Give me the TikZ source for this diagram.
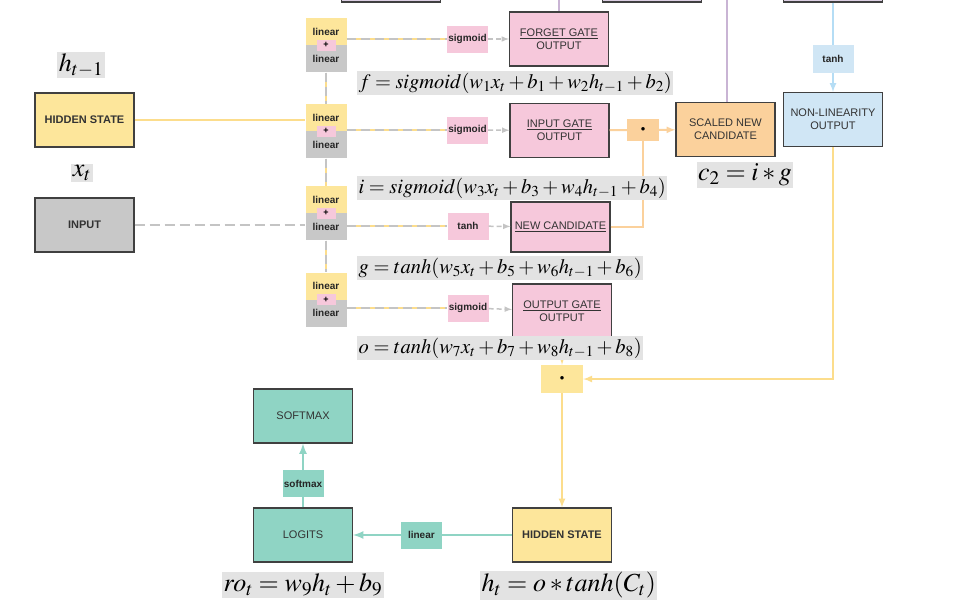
\documentclass[tikz,border=0pt]{standalone}
\usepackage{mathptmx}
\usepackage{fontspec}
\setsansfont{Liberation Sans}
\usetikzlibrary{arrows}
\usetikzlibrary{positioning}

\definecolor{hsyellow}{HTML}{FDE69B}
\definecolor{yline}{HTML}{FCDD8C}
\definecolor{inpgray}{HTML}{C8C8C8}
\definecolor{wiregray}{HTML}{C4C4C4}
\definecolor{gatepink}{HTML}{F6C8DB}
\definecolor{candorange}{HTML}{FBD19C}
\definecolor{nlblue}{HTML}{D0E6F5}
\definecolor{bline}{HTML}{B5DDF5}
\definecolor{pline}{HTML}{C9B4D4}
\definecolor{logteal}{HTML}{8FD4C4}
\definecolor{eqgray}{HTML}{E3E3E3}
\definecolor{topfill}{HTML}{DCCFE3}

\begin{document}
\begin{tikzpicture}[x=1pt, y=-1pt, >=latex,
	box/.style={draw=black!75, line width=1.1pt, minimum width=99pt, minimum height=54pt, inner sep=2pt, align=center, text=black!80, font=\sffamily\fontsize{11}{13}\selectfont},
	tag/.style={minimum width=41pt, minimum height=27pt, inner sep=1pt, text=black!85, font=\sffamily\bfseries\fontsize{10}{11}\selectfont},
	plus/.style={fill=gatepink, minimum width=19pt, minimum height=11pt, inner sep=0pt, font=\sffamily\bfseries\fontsize{9}{9}\selectfont},
	dotbox/.style={minimum width=32pt, minimum height=22pt, inner sep=0pt, font=\fontsize{9}{9}\selectfont},
	eqn/.style={fill=eqgray, inner sep=1.5pt, font=\fontsize{20.5}{24}\selectfont},
	biglab/.style={eqn, font=\fontsize{26}{30}\selectfont},
	hline/.style={draw=yline, line width=2pt},
	xline/.style={draw=wiregray, line width=2pt, dash pattern=on 10pt off 5pt},
	gatewire/.style={draw=yline, line width=2pt, postaction={draw=wiregray, dash pattern=on 9pt off 5pt}},
	actarrow/.style={draw=wiregray, line width=1.5pt, dash pattern=on 5pt off 3pt, ->},
	candline/.style={draw=candorange, line width=2pt},
	tealline/.style={draw=logteal, line width=2.5pt}]
	\useasboundingbox[fill=white] (0,0) rectangle (955,605);
	\clip (0,0) rectangle (955,605);

	\node[box, fill=topfill, minimum height=40pt] (topa) at (391,-18) {};
	\node[box, fill=topfill, minimum height=40pt] (topb) at (652,-18) {};
	\node[box, fill=topfill, minimum height=40pt] (topc) at (833,-18) {};
	\coordinate (fsrc) at (559,-5);
	\coordinate (ssrc) at (727,-5);

	\node[box, fill=hsyellow] (hprev) at (84.5,120) {\bfseries HIDDEN STATE};
	\node[box, fill=inpgray] (inp) at (84.5,225) {\bfseries INPUT};
	\node[biglab] (hlab) at (81,65) {$h_{t-1}$};
	\node[biglab] (xlab) at (82,173) {$x_t$};

	\foreach \n/\y in {1/31.5, 2/117.5, 3/199.5, 4/286} {
		\node[tag, fill=hsyellow] (hy\n) at (326,\y) {linear};
		\node[tag, fill=inpgray, below=0pt of hy\n] (xg\n) {linear};
		\node[plus] (plus\n) at (hy\n.south) {+};
	}

	\node[tag, fill=gatepink] (act1) at (467.5,39) {sigmoid};
	\node[tag, fill=gatepink] (act2) at (467.5,130) {sigmoid};
	\node[tag, fill=gatepink] (act3) at (468,226) {tanh};
	\node[tag, fill=gatepink] (act4) at (468,308) {sigmoid};

	\node[box, fill=gatepink] (forget) at (559,39) {\underline{FORGET GATE}\\OUTPUT};
	\node[box, fill=gatepink] (ingate) at (559.5,130.5) {\underline{INPUT GATE}\\OUTPUT};
	\node[box, fill=gatepink, minimum height=50pt] (newcand) at (560.5,227) {\underline{NEW CANDIDATE}};
	\node[box, fill=gatepink] (outgate) at (562,311) {\underline{OUTPUT GATE}\\OUTPUT};

	\node[dotbox, fill=candorange] (dot1) at (643,130) {$\bullet$};
	\node[box, fill=candorange] (scaled) at (725.5,129.5) {SCALED NEW\\CANDIDATE};
	\node[tag, fill=nlblue, minimum height=28pt] (tanhb) at (833,59) {tanh};
	\node[box, fill=nlblue] (nonlin) at (833,119.5) {NON-LINEARITY\\OUTPUT};
	\node[dotbox, fill=hsyellow, minimum width=42pt, minimum height=28pt] (dot2) at (562,379) {$\bullet$};

	\node[box, fill=hsyellow] (hnext) at (562,535) {\bfseries HIDDEN STATE};
	\node[box, fill=logteal] (logits) at (303,535) {LOGITS};
	\node[box, fill=logteal] (softmax) at (303,416) {SOFTMAX};

	\draw[hline] (hprev.east) -- (hprev.east -| hy2.west);
	\draw[xline] (inp.east) -- (inp.east -| xg3.west);
	\draw[gatewire] (xg1.south) -- (hy2.north);
	\draw[gatewire] (xg2.south) -- (hy3.north);
	\draw[gatewire] (xg3.south) -- (hy4.north);
	\draw[gatewire] (act1.west -| hy1.east) -- (act1.west);
	\draw[gatewire] (act2.west -| hy2.east) -- (act2.west);
	\draw[gatewire] (act3.west -| xg3.east) -- (act3.west);
	\draw[gatewire] (act4.west -| xg4.east) -- (act4.west);
	\draw[actarrow] (act1) -- (forget);
	\draw[actarrow] (act2) -- (ingate);
	\draw[actarrow] (act3) -- (newcand);
	\draw[actarrow] (act4) -- (outgate);

	\draw[draw=pline, line width=2pt] (fsrc) -- (forget.north);
	\draw[draw=pline, line width=2pt] (ssrc) -- (ssrc |- scaled.north);
	\draw[candline] (ingate) -- (dot1);
	\draw[candline, ->] (dot1) -- (scaled);
	\draw[candline] (newcand.east) -| (dot1.south);
	\draw[draw=bline, line width=2pt] (topc.south) -- (tanhb.north);
	\draw[draw=bline, line width=2pt, ->] (tanhb) -- (nonlin);
	\draw[hline, ->] (nonlin.south) |- (dot2.east);
	\draw[hline, ->] (outgate) -- (dot2);
	\draw[hline, ->] (dot2) -- (hnext);
	\draw[tealline, ->] (hnext) -- node[tag, fill=logteal, pos=0.57] (lin9) {linear} (logits);
	\draw[tealline, ->] (logits) -- node[tag, fill=logteal, pos=0.37] (smtag) {softmax} (softmax);

	\node[eqn, anchor=west] (feq) at (357,83) {$f = sigmoid(w_1x_t + b_1 + w_2h_{t-1} + b_2)$};
	\node[eqn, anchor=west] (ieq) at (357,188) {$i = sigmoid(w_3x_t + b_3 + w_4h_{t-1} + b_4)$};
	\node[eqn, anchor=west] (geq) at (357,268) {$g = tanh(w_5x_t + b_5 + w_6h_{t-1} + b_6)$};
	\node[eqn, anchor=west] (oeq) at (357,348) {$o = tanh(w_7x_t + b_7 + w_8h_{t-1} + b_8)$};
	\node[biglab] (c2lab) at (745,175) {$c_2 = i * g$};
	\node[biglab, anchor=west] (roeq) at (222,585) {$ro_t = w_9h_t + b_9$};
	\node[biglab, anchor=west] (hteq) at (480,585) {$h_t = o * tanh(C_t)$};
\end{tikzpicture}
\end{document}
